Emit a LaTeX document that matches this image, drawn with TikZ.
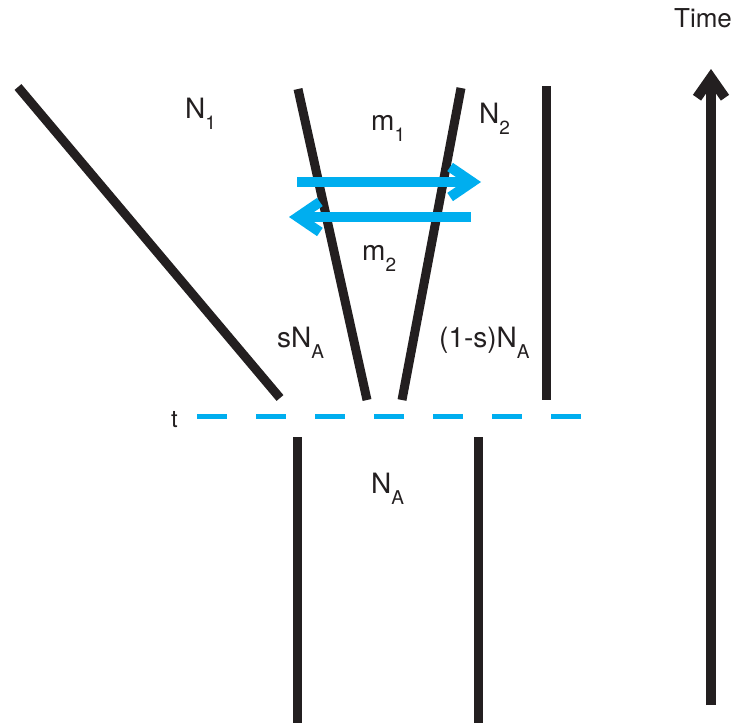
\documentclass[tikz,border=0pt]{standalone}
\usepackage{fontspec}
\setmainfont{TeX Gyre Heros}
\usetikzlibrary{arrows.meta}
\definecolor{popblack}{HTML}{231F20}
\definecolor{migblue}{HTML}{00AEEF}
\newcommand{\sbs}[1]{\raisebox{-11pt}{\fontsize{19}{19}\selectfont #1}}
\begin{document}
\begin{tikzpicture}[x=1pt, y=-1pt,
  lin/.style={draw=popblack, line width=9pt},
  mig/.style={draw=migblue, line width=10pt,
              -{Straight Barb[length=22pt,width=30pt]}},
  tarr/.style={draw=popblack, line width=10pt,
               -{Straight Barb[length=20pt,width=28pt]}},
  split/.style={draw=migblue, line width=5pt, dash pattern=on 30pt off 29pt},
  lbl/.style={anchor=base west, inner sep=0pt, text=popblack,
              font=\fontsize{28}{30}\selectfont}]
  \useasboundingbox (0,0) rectangle (737,723);
  % population lines
  \coordinate (n1top) at (18,87);
  \coordinate (n1bot) at (280,398);
  \coordinate (ltop) at (298,89);
  \coordinate (lbot) at (367,400);
  \coordinate (rtop) at (461,88);
  \coordinate (rbot) at (402,400);
  \coordinate (n2top) at (546,86);
  \coordinate (n2bot) at (546,400);
  \coordinate (atopl) at (297,437);
  \coordinate (abotl) at (297,723);
  \coordinate (atopr) at (478,437);
  \coordinate (abotr) at (478,723);
  \draw[lin] (n1top) -- (n1bot);
  \draw[lin] (ltop) -- (lbot);
  \draw[lin] (rtop) -- (rbot);
  \draw[lin] (n2top) -- (n2bot);
  \draw[lin] (atopl) -- (abotl);
  \draw[lin] (atopr) -- (abotr);
  % split time
  \coordinate (tstart) at (197,416);
  \coordinate (tend) at (582,416);
  \draw[split] (tstart) -- (tend);
  \node[anchor=base west, inner sep=0pt, text=popblack,
        font=\fontsize{24}{26}\selectfont] (tlbl) at (171,427) {t};
  % migration
  \coordinate (m1from) at (297,182);
  \coordinate (m1to) at (481,182);
  \coordinate (m2from) at (471,217);
  \coordinate (m2to) at (289,217);
  \draw[mig] (m1from) -- (m1to);
  \draw[mig] (m2from) -- (m2to);
  % time axis
  \coordinate (tbot) at (711,705);
  \coordinate (ttop) at (711,69);
  \draw[tarr] (tbot) -- (ttop);
  \node[anchor=base, inner sep=0pt, text=popblack,
        font=\fontsize{26}{28}\selectfont] (time) at (703,27) {Time};
  % labels
  \node[lbl] (n1) at (185,118) {N\sbs{1}};
  \node[lbl] (m1) at (371,130) {m\sbs{1}};
  \node[lbl] (n2) at (479,123) {N\sbs{2}};
  \node[lbl] (m2) at (362,260) {m\sbs{2}};
  \node[lbl] (sna) at (277,347) {sN\sbs{A}};
  \node[lbl] (rna) at (439,347) {(1-s)N\sbs{A}};
  \node[lbl] (na) at (371,493) {N\sbs{A}};
\end{tikzpicture}
\end{document}
